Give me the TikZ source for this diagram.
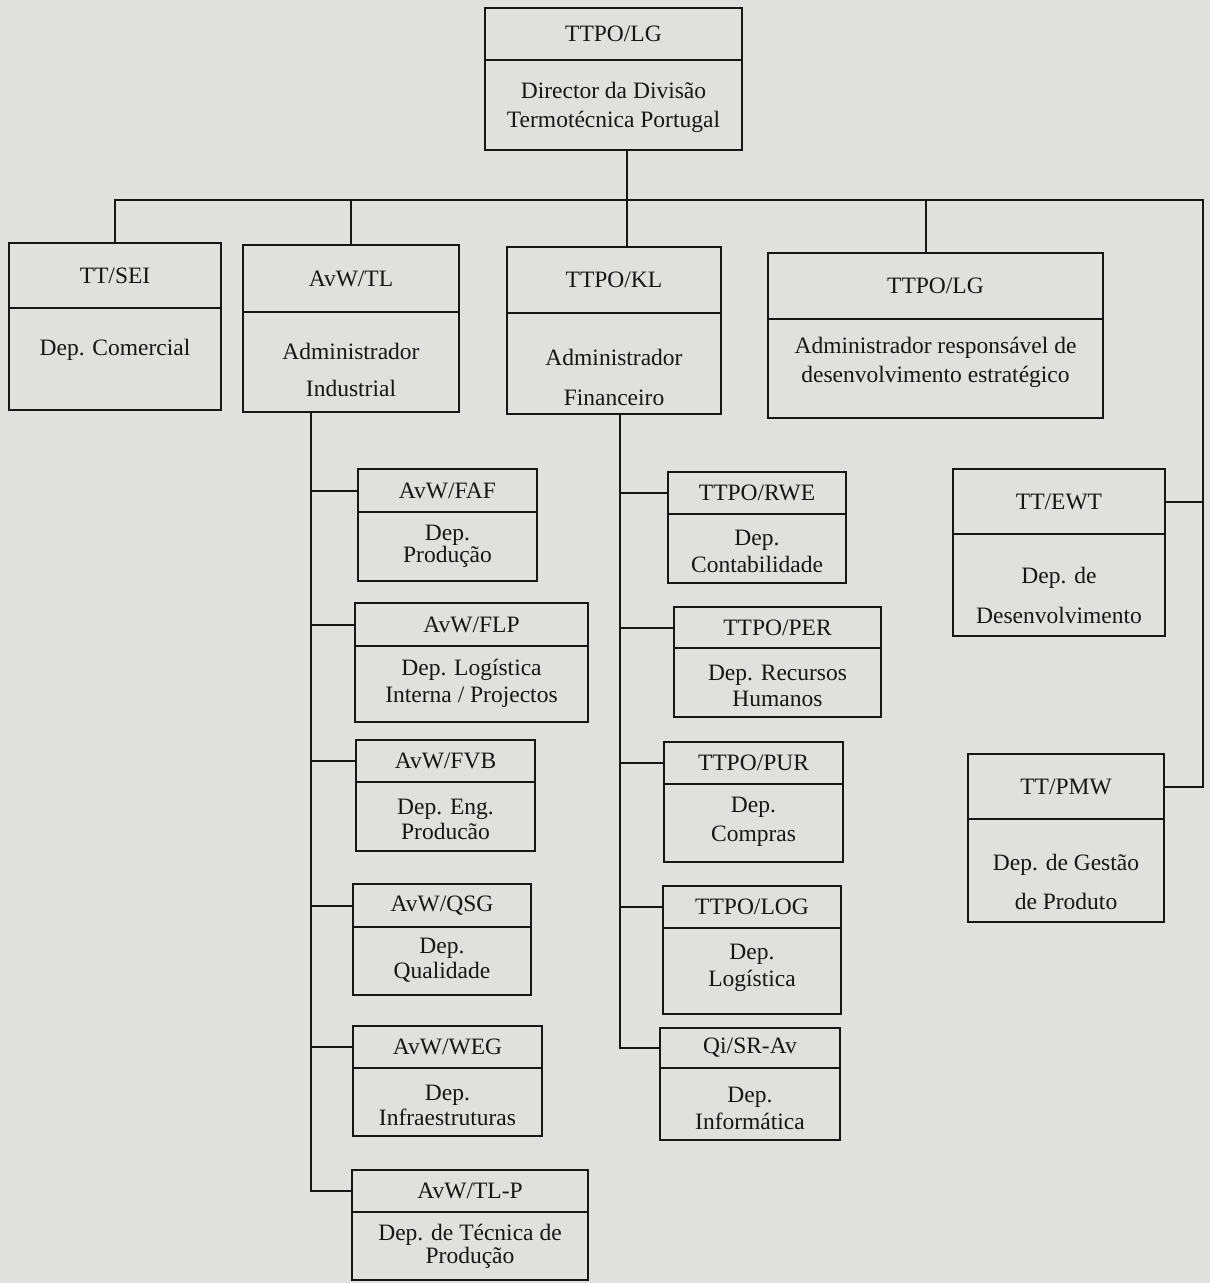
\documentclass[tikz,border=0pt]{standalone}
\usepackage{fontspec}
\setmainfont{Liberation Serif}
\definecolor{paper}{RGB}{224,224,222}
\definecolor{ink}{RGB}{22,22,22}

% one box of the chart: name, left, top, right, bottom, divider, title, body, body centre
\newcommand{\orgunit}[9]{%
  \node[unit,minimum width=#4-#2,minimum height=#5-#3] (#1) at ({(#2+#4)/2},{(#3+#5)/2}) {};
  \draw[line] (#1.west |- 0,#6) -- (#1.east |- 0,#6);
  \node[txt] (#1-t) at ({(#2+#4)/2},{(#3+#6)/2}) {#7};
  \node[txt] (#1-b) at ({(#2+#4)/2},#9) {#8};
}

\begin{document}
\begin{tikzpicture}[x=1pt,y=-1pt,
  line/.style={draw=ink,line width=2pt},
  unit/.style={line,rectangle,inner sep=0pt,outer sep=0pt},
  txt/.style={align=center,inner sep=0pt,text=ink,font=\fontsize{23.5}{27}\selectfont}]
\fill[paper] (0,0) rectangle (1210,1283);
\useasboundingbox (0,0) rectangle (1210,1283);

\orgunit{top}{485}{8}{742}{150}{60}{TTPO/LG}{Director da Divisão\\[2pt]Termotécnica Portugal}{107}
\orgunit{sei}{9}{243}{221}{410}{308}{TT/SEI}{Dep. Comercial}{350}
\orgunit{tl}{243}{245}{459}{412}{312}{AvW/TL}{Administrador\\[10pt]Industrial}{370}
\orgunit{kl}{507}{247}{721}{414}{313}{TTPO/KL}{Administrador\\[13pt]Financeiro}{377}
\orgunit{lg}{768}{253}{1103}{418}{319}{TTPO/LG}{Administrador responsável de\\[2pt]desenvolvimento estratégico}{362}

% Administrador Industrial
\orgunit{faf}{358}{469}{537}{581}{512}{AvW/FAF}{Dep.\\[-5pt]Produção}{546}
\orgunit{flp}{355}{603}{588}{722}{646}{AvW/FLP}{Dep. Logística\\Interna / Projectos}{683}
\orgunit{fvb}{356}{740}{535}{851}{782}{AvW/FVB}{Dep. Eng.\\[-2pt]Producão}{819}
\orgunit{qsg}{353}{884}{531}{995}{927}{AvW/QSG}{Dep.\\[-2pt]Qualidade}{960}
\orgunit{weg}{353}{1026}{542}{1136}{1068}{AvW/WEG}{Dep.\\[-2pt]Infraestruturas}{1105}
\orgunit{tlp}{352}{1170}{588}{1280}{1212}{AvW/TL-P}{Dep. de Técnica de\\[-4pt]Produção}{1246}

% Administrador Financeiro
\orgunit{rwe}{668}{472}{846}{583}{514}{TTPO/RWE}{Dep.\\Contabilidade}{551}
\orgunit{per}{674}{607}{881}{717}{648}{TTPO/PER}{Dep. Recursos\\[-1pt]Humanos}{686}
\orgunit{pur}{664}{742}{843}{862}{784}{TTPO/PUR}{Dep.\\[2pt]Compras}{822}
\orgunit{log}{663}{886}{841}{1014}{928}{TTPO/LOG}{Dep.\\Logística}{968}
\orgunit{qi}{660}{1028}{840}{1140}{1068}{Qi/SR-Av}{Dep.\\Informática}{1108}

% estrategia
\orgunit{ewt}{953}{469}{1165}{636}{534}{TT/EWT}{Dep. de\\[13pt]Desenvolvimento}{595}
\orgunit{pmw}{968}{754}{1164}{922}{819}{TT/PMW}{Dep. de Gestão\\[12pt]de Produto}{882}

\coordinate (busL) at (115,200);
\coordinate (busR) at (1203,200);
\coordinate (mid) at (627,200);
\coordinate (strat) at (926,200);
\coordinate (spL) at (311,412);
\coordinate (spR) at (620,414);

\draw[line] (top.south -| mid) -- (kl.north -| mid);
\draw[line] (sei.north) -- (sei.north |- busL) -- (busR) |- (pmw.east |- pmw-t);
\draw[line] (tl.north) -- (tl.north |- busL);
\draw[line] (lg.north -| strat) -- (strat);
\draw[line] (ewt.east |- ewt-t) -- (ewt-t -| busR);

\draw[line] (tl.south -| spL) |- (tlp.west |- tlp-t);
\foreach \u in {faf,flp,fvb,qsg,weg}
  \draw[line] (spL |- \u-t) -- (\u.west |- \u-t);
\draw[line] (kl.south -| spR) |- (qi.west |- qi-t);
\foreach \u in {rwe,per,pur,log}
  \draw[line] (spR |- \u-t) -- (\u.west |- \u-t);
\end{tikzpicture}
\end{document}
